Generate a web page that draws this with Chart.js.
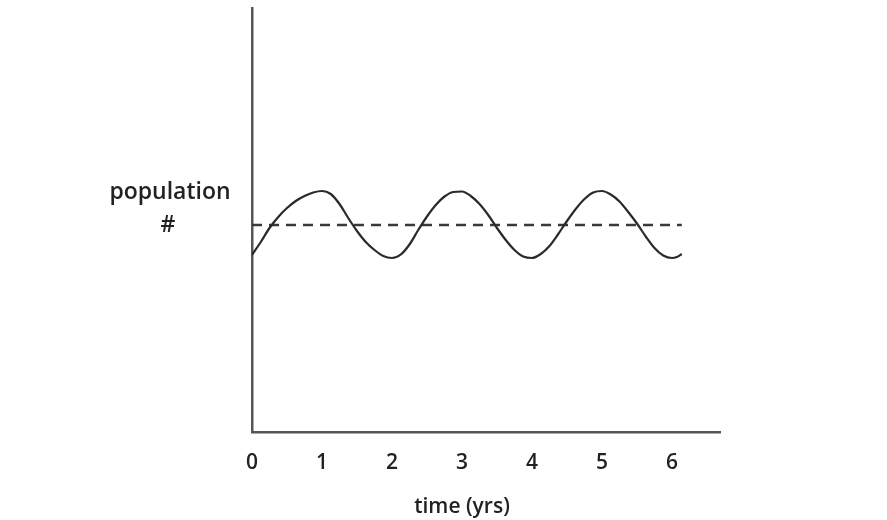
<!DOCTYPE html>
<html>
<head>
<meta charset="utf-8">
<script src="https://cdn.jsdelivr.net/npm/chart.js@4"></script>
<style>
  html, body { margin: 0; padding: 0; background: #ffffff; }
  #wrap { width: 887px; height: 520px; }
</style>
</head>
<body>
<div id="wrap"><canvas id="c" width="887" height="520"></canvas></div>
<script>
// ---- data ----
const years = [
  0, 0.125, 0.25, 0.375, 0.5, 0.625, 0.75, 0.875,
  1.0, 1.125, 1.25, 1.375, 1.5, 1.625, 1.75, 1.875,
  2.0, 2.125, 2.25, 2.375, 2.5, 2.625, 2.75, 2.875,
  3.0, 3.125, 3.25, 3.375, 3.5, 3.625, 3.75, 3.875,
  4.0, 4.125, 4.25, 4.375, 4.5, 4.625, 4.75, 4.875,
  5.0, 5.125, 5.25, 5.375, 5.5, 5.625, 5.75, 5.875,
  6.0, 6.07, 6.14
];
const population = [
  177, 190, 204, 215, 224, 231, 236, 239.5,
  241, 238, 228, 214, 201, 190, 182, 176,
  174, 177.5, 187.5, 202, 215.5, 227, 235.5, 240,
  240.5, 236, 228, 217, 204, 192, 182, 175.5,
  174, 178, 186, 198, 211, 223, 233, 239.5,
  241, 237.5, 230.5, 220, 208.5, 195.5, 184, 176.5,
  174, 175, 178
];
const carryingYears = [0, 6.14];
const carryingLevel = [207, 207];
const xTickLabels = ['0', '1', '2', '3', '4', '5', '6'];
const xAxisTitle = 'time (yrs)';
const yAxisTitle = ['population', '#'];

const FONT = '"Open Sans", sans-serif';
const INK = '#222222';

const labelPlugin = {
  id: 'freeLabels',
  afterDraw(chart) {
    const ctx = chart.ctx;
    const xs = chart.scales.x, ys = chart.scales.y;
    ctx.save();
    ctx.fillStyle = INK;
    ctx.textAlign = 'center';
    ctx.textBaseline = 'middle';
    ctx.font = '600 21px ' + FONT;
    // x axis title centred under the middle tick
    ctx.fillText(xAxisTitle, xs.getPixelForValue(3), 507);
    // y axis title, horizontal, to the left of the axis
    ctx.font = '600 23px ' + FONT;
    ctx.fillText(yAxisTitle[0], 170, 192);
    ctx.fillText(yAxisTitle[1], 168, ys.getPixelForValue(carryingLevel[0]));
    ctx.restore();
  }
};

new Chart(document.getElementById('c'), {
  type: 'line',
  data: {
    datasets: [
      {
        label: 'population',
        data: years.map((x, i) => ({ x, y: population[i] })),
        borderColor: '#2a2a2a',
        borderWidth: 2.2,
        pointRadius: 0,
        cubicInterpolationMode: 'monotone',
        fill: false
      },
      {
        label: 'carrying capacity',
        data: carryingYears.map((x, i) => ({ x, y: carryingLevel[i] })),
        borderColor: '#3a3a3a',
        borderWidth: 2.4,
        borderDash: [10, 7],
        pointRadius: 0,
        fill: false
      }
    ]
  },
  options: {
    responsive: false,
    animation: false,
    events: [],
    layout: { padding: { left: 0, right: 167, top: 8, bottom: 0 } },
    plugins: { legend: { display: false }, tooltip: { enabled: false }, title: { display: false } },
    scales: {
      x: {
        type: 'linear',
        min: 0,
        max: 6.686,
        afterFit(s) { s.height = 88; },
        afterBuildTicks(s) { s.ticks = xTickLabels.map((t, i) => ({ value: i })); },
        ticks: {
          callback: (v, i) => xTickLabels[i],
          color: INK,
          font: { family: FONT, size: 21, weight: '600' },
          padding: 18,
          maxRotation: 0,
          autoSkip: false
        },
        grid: { display: false, drawTicks: false },
        border: { display: true, color: '#555555', width: 2.5 }
      },
      y: {
        min: 0,
        max: 424,
        afterFit(s) { s.width = 252; },
        ticks: { display: false },
        grid: { display: false, drawTicks: false },
        border: { display: true, color: '#555555', width: 2.5 }
      }
    }
  },
  plugins: [labelPlugin]
});
</script>
</body>
</html>
